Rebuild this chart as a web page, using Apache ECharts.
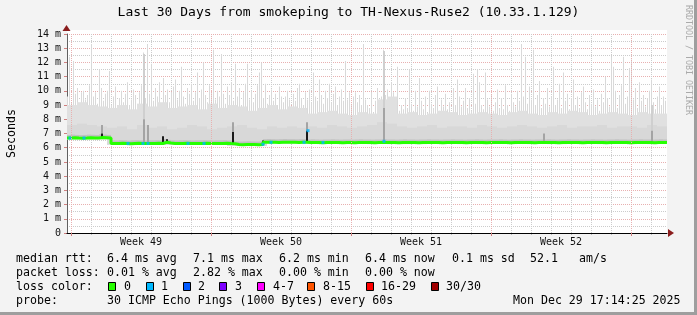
<!DOCTYPE html>
<html><head><meta charset="utf-8">
<script src="https://cdn.jsdelivr.net/npm/echarts@6/dist/echarts.min.js"></script>
<style>html,body{margin:0;padding:0;background:#f3f3f3}#c{width:697px;height:315px}</style>
</head><body><div id="c"></div><script>
// ---------- DATA ----------
const chartTitle = 'Last 30 Days from smokeping to TH-Nexus-Ruse2 (10.33.1.129)';
const yAxisName = 'Seconds';
const yTickValues = [0,1,2,3,4,5,6,7,8,9,10,11,12,13,14];
// x axis in days from the left edge of the 30-day window
const weekLines = [0.2, 7.2, 14.2, 21.2, 28.2];
const dayLines = [1.2,2.2,3.2,4.2,5.2,6.2, 8.2,9.2,10.2,11.2,12.2,13.2, 15.2,16.2,17.2,18.2,19.2,20.2, 22.2,23.2,24.2,25.2,26.2,27.2, 29.2];
const weekLabelPos = [3.7, 10.7, 17.7, 24.7];
const weekLabels = ['Week 49', 'Week 50', 'Week 51', 'Week 52'];

// median rtt (ms), one value per 0.2 day
const medianRtt = [
6.68,6.70,6.68,6.67,6.68,6.70,6.69,6.68,6.72,6.70,6.68,
6.30,6.29,6.31,6.30,6.28,6.30,6.31,6.30,6.29,6.30,
6.30,6.31,6.30,6.38,6.33,6.30,6.29,6.30,6.31,6.30,
6.29,6.30,6.30,6.31,6.30,6.29,6.30,6.30,6.31,6.29,6.28,
6.22,6.21,6.22,6.23,6.22,6.21,6.22,
6.38,6.39,6.38,6.37,6.38,6.39,6.38,6.38,6.37,6.38,6.38,
6.36,6.37,6.36,6.35,6.36,6.36,6.37,6.36,6.35,6.36,
6.36,6.35,6.36,6.37,6.36,6.36,6.35,6.36,6.36,6.37,
6.36,6.36,6.35,6.36,6.37,6.36,6.36,6.35,6.36,6.36,
6.37,6.36,6.36,6.35,6.36,6.36,6.37,6.36,6.36,6.35,
6.36,6.36,6.37,6.36,6.35,6.36,6.36,6.36,6.37,6.36,
6.35,6.36,6.36,6.37,6.36,6.36,6.35,6.36,6.36,6.36,
6.37,6.36,6.35,6.36,6.36,6.37,6.36,6.36,6.35,6.36,
6.36,6.37,6.36,6.36,6.35,6.36,6.36,6.37,6.36,6.36,
6.35,6.36,6.36,6.37,6.36,6.36,6.35,6.36,6.37,6.36
];
// highest ping (ms), one value per 0.1 day
const smokeMax = [
9.6,12.4,9.2,12.1,9.8,10.2,9.0,9.9,10.0,9.4,
9.7,10.4,13.3,9.6,9.9,9.1,11.5,10.2,9.3,9.8,
10.0,11.4,9.0,9.6,10.3,8.8,9.5,10.0,9.2,9.8,
10.6,9.0,9.4,10.1,9.7,8.9,9.9,10.4,12.7,9.5,
13.3,9.8,11.9,9.3,10.2,9.6,10.6,9.0,10.9,9.7,
10.1,9.2,9.9,10.3,10.8,9.4,10.0,11.7,9.6,9.1,
10.2,9.8,10.5,9.3,9.9,11.3,9.5,10.1,12.0,9.7,
9.2,10.4,9.9,12.9,9.4,10.0,9.6,12.6,9.8,9.1,
10.3,9.7,10.6,9.3,11.9,9.6,10.2,9.0,9.9,10.5,
11.9,9.4,10.0,9.2,9.8,10.4,11.3,12.0,9.5,10.5,
9.1,9.7,10.1,9.3,9.8,9.0,10.3,9.6,9.2,9.6,
10.0,9.4,8.9,9.8,9.3,10.2,10.5,9.5,9.0,9.9,
9.4,10.1,9.2,11.3,9.6,9.3,10.8,9.7,9.1,10.0,
9.5,10.5,9.2,9.8,10.3,9.0,9.6,10.1,9.3,12.1,
9.4,9.9,9.1,9.6,9.9,9.2,9.7,9.0,13.3,9.4,
9.0,8.8,9.9,8.5,9.3,10.2,8.9,9.6,12.9,9.7,
10.1,9.4,10.6,9.9,8.9,11.7,8.6,9.0,8.7,9.5,
8.8,11.5,9.1,8.6,10.0,8.9,10.9,9.3,8.7,9.6,
8.5,10.0,9.1,8.8,9.7,10.3,8.6,9.4,8.9,9.8,
8.7,9.2,8.5,10.2,9.0,10.8,9.6,8.9,9.3,10.2,
8.8,9.5,8.6,11.2,9.1,11.5,10.6,9.0,8.7,11.3,
9.4,8.9,9.7,8.6,9.2,10.1,8.8,9.5,8.7,10.4,
9.0,8.6,9.8,9.2,8.9,10.0,9.3,13.3,9.6,12.4,
9.1,10.3,9.4,12.9,9.0,9.7,10.7,8.8,9.5,9.1,
10.2,8.9,9.6,11.7,9.0,9.4,10.5,8.8,11.3,9.3,
9.8,8.7,9.5,10.8,9.0,9.6,8.8,9.9,10.3,9.2,
8.7,9.7,9.1,10.1,8.9,9.4,8.6,9.8,9.2,11.0,
9.5,8.9,12.4,11.7,10.0,8.8,9.7,10.4,12.4,9.1,
9.6,11.6,12.2,9.4,10.2,8.8,10.6,9.3,9.7,8.9,
9.5,10.0,10.8,9.2,8.7,9.6,10.3,9.0,9.6,9.3
];
// top of the dense smoke (ms), one value per 0.5 day
const smokeDense = [
9.0,9.2,9.0,8.9,
8.8,9.0,8.7,9.1,8.9,9.2,8.8,8.9,9.0,8.7,9.1,8.8,9.0,8.9,8.6,8.8,9.0,8.7,8.9,8.8,
8.4,8.5,8.6,8.4,8.3,8.5,8.4,9.4,9.6,8.4,8.5,8.3,8.4,8.6,8.5,8.3,8.4,8.5,
8.4,8.3,8.5,8.6,8.4,8.3,8.5,8.4,8.6,8.5,8.3,8.4,8.5,8.4,8.3,8.5,8.4,8.4
];
// top of the darker middle smoke (ms), one value per 0.5 day
const smokeMid = [
7.6,7.7,7.6,7.5,
7.4,7.5,7.3,7.6,7.4,7.5,7.3,7.4,7.6,7.5,7.3,7.4,7.5,7.6,7.4,7.3,7.5,7.4,7.5,7.4,
7.5,7.4,7.6,7.5,7.4,7.5,7.6,7.8,7.7,7.5,7.4,7.5,7.6,7.4,7.5,7.5,7.4,7.6,
7.5,7.4,7.5,7.6,7.5,7.4,7.5,7.6,7.4,7.5,7.5,7.6,7.4,7.5,7.5,7.4,7.6,7.5
];
// [day, rtt ms, lost pings]
const lossEvents = [
[0.1,6.68,1],[0.8,6.68,1],[3.0,6.30,1],[3.75,6.30,1],[4.0,6.30,1],[6.0,6.30,1],[6.8,6.30,1],
[9.75,6.24,1],[10.15,6.38,1],[11.8,6.38,1],[12.0,7.2,1],[12.75,6.37,1],[15.8,6.45,1]
];
// concentrated smoke streaks [day, low ms, high ms]
const darkStreaks = [[1.7,6.68,7.0],[2.15,6.30,6.68],[4.75,6.35,6.8],[4.95,6.30,6.6],[8.25,6.2,7.1],[9.75,6.22,6.5],[11.95,6.38,7.2]];
const grayStreaks = [[1.7,7.0,7.6],[3.8,6.35,8.0],[4.0,6.35,7.6],[8.25,7.1,7.8],[11.95,7.2,7.8],[15.8,6.45,8.8],[23.8,6.4,7.0],[29.2,6.4,7.2]];
const softStreaks = [[3.8,8.0,12.6],[15.8,8.8,12.8],[29.2,7.2,9.0]];

const lossLabels = ['0','1','2','3','4-7','8-15','16-29','30/30'];
const lossColors = ['#26ff00','#00b8ff','#0059ff','#7e00ff','#ff00ff','#ff5500','#ff0000','#a10000'];
const statRow1 = ['median rtt:','6.4 ms avg','7.1 ms max','6.2 ms min','6.4 ms now','0.1 ms sd','52.1','am/s'];
const statRow2 = ['packet loss:','0.01 % avg','2.82 % max','0.00 % min','0.00 % now'];
const lossRowLabel = 'loss color:';
const probeRow = ['probe:','30 ICMP Echo Pings (1000 Bytes) every 60s','Mon Dec 29 17:14:25 2025'];
const watermark = 'RRDTOOL / TOBI OETIKER';

// ---------- LAYOUT / STYLE ----------
const MONO = '"DejaVu Sans Mono", monospace';
const statX = [16,107,193,279,365,452,530,579];
const probeX = [16,107,513];
const boxX = [108,146,183,219,257,307,366,431];
const boxLabelX = [124,161,198,235,273,323,381,446];
const rowY = [259,273,287,301];
const PINK = '#e8b0b0', GRAYDOT = '#cccccc';

function medAt(d){ const i=Math.max(0,Math.min(medianRtt.length-1,Math.floor(d/0.2+1e-6))); return medianRtt[i]; }
function minMed(d0,d1){ let m=Infinity; for(let d=d0; d<d1-1e-6; d+=0.1) m=Math.min(m,medAt(d)); return m; }
function lossBucket(n){ if(n<=3) return n; if(n<=7) return 4; if(n<=15) return 5; if(n<=29) return 6; return 7; }

function rectLayer(name, data, color, pxWidth){
  return {
    type:'custom', name, silent:true, clip:true, data,
    encode:{x:0, y:[1,2]},
    renderItem(params, api){
      const d=api.value(0), lo=api.value(1), hi=api.value(2), w=api.value(3);
      const p0=api.coord([d,hi]), p1=api.coord([d+w,lo]);
      return {type:'rect', shape:{x:p0[0], y:p0[1], width: pxWidth || (p1[0]-p0[0]), height:p1[1]-p0[1]}, style:{fill:color}};
    }
  };
}

const spikeData = smokeMax.map((v,i)=>[i*0.1, medAt(i*0.1)-0.1, v, 0.1]);
const denseData = smokeDense.map((v,j)=>[j*0.5, minMed(j*0.5,j*0.5+0.5)-0.1, v, 0.5]);
const midData = smokeMid.map((v,j)=>[j*0.5, minMed(j*0.5,j*0.5+0.5)-0.05, v, 0.5]);
const nearData = medianRtt.map((v,i)=>[i*0.2, v, v+0.22, 0.2]);
const toStreak = a => a.map(s=>[s[0], s[1], s[2], 0.1]);
const medianLine = medianRtt.map((v,i)=>[i*0.2, v]).concat([[30, medianRtt[medianRtt.length-1]]]);

const graphics = [];
graphics.push({type:'rect', shape:{x:67,y:30,width:600,height:4}, style:{fill:'#ffffff'}, z:-10});
graphics.push({type:'rect', shape:{x:694,y:0,width:3,height:315}, style:{fill:'#9e9e9e'}});
graphics.push({type:'rect', shape:{x:0,y:312,width:697,height:3}, style:{fill:'#9e9e9e'}});
graphics.push({type:'polygon', shape:{points:[[62.5,31],[70.5,31],[66.5,25]]}, style:{fill:'#8a1c1c'}, z:100});
graphics.push({type:'polygon', shape:{points:[[668,229],[668,237],[674,233]]}, style:{fill:'#8a1c1c'}, z:100});
graphics.push({type:'text', x:688, y:5, rotation:-Math.PI/2, style:{text:watermark, font:'8.3px '+MONO, fill:'#aaaaaa', align:'left', verticalAlign:'middle'}});
function txt(t,x,y){ graphics.push({type:'text', x, y, style:{text:t, font:'11.6px '+MONO, fill:'#000', align:'left', verticalAlign:'middle'}}); }
statRow1.forEach((t,k)=>txt(t,statX[k],rowY[0]));
statRow2.forEach((t,k)=>txt(t,statX[k],rowY[1]));
txt(lossRowLabel,16,rowY[2]);
lossLabels.forEach((t,k)=>{
  graphics.push({type:'rect', shape:{x:boxX[k]+0.5,y:rowY[2]-4.5,width:7,height:8}, style:{fill:lossColors[k], stroke:'#000', lineWidth:1}});
  txt(t,boxLabelX[k],rowY[2]);
});
probeRow.forEach((t,k)=>txt(t,probeX[k],rowY[3]));

const chart = echarts.init(document.getElementById('c'), null, {renderer:'canvas', width:697, height:315});
chart.setOption({
  animation:false,
  backgroundColor:'#f3f3f3',
  title:{text:chartTitle, left:'center', top:6, padding:0, textStyle:{fontFamily:MONO, fontSize:13, fontWeight:'normal', color:'#000'}},
  grid:{left:67, top:34, width:600, height:199, show:true, backgroundColor:'#ffffff', borderWidth:0, containLabel:false, outerBoundsMode:'none'},
  xAxis:[
    {type:'value', min:0, max:30, position:'bottom',
     axisLine:{show:true, onZero:false, lineStyle:{color:'#000', width:1}},
     axisTick:{show:true, customValues:weekLines, length:3, lineStyle:{color:'#d08080'}},
     axisLabel:{show:true, customValues:weekLabelPos, margin:4, fontFamily:MONO, fontSize:10, color:'#111',
       formatter:v=>{const k=weekLabelPos.findIndex(p=>Math.abs(p-v)<1e-6); return k>=0?weekLabels[k]:'';}},
     splitLine:{show:true, lineStyle:{color:PINK, type:[1,1], width:1}}, z:5},
    {type:'value', min:0, max:30, position:'bottom',
     axisLine:{show:false}, axisLabel:{show:false},
     axisTick:{show:true, customValues:dayLines, length:2, lineStyle:{color:'#bbbbbb'}},
     splitLine:{show:true, lineStyle:{color:GRAYDOT, type:[1,1], width:1}}}
  ],
  yAxis:{type:'value', min:0, max:14, interval:1,
    name:yAxisName, nameLocation:'middle', nameGap:49, nameRotate:90,
    nameTextStyle:{fontFamily:MONO, fontSize:11.6, color:'#000'},
    axisLine:{show:true, lineStyle:{color:'#606060', width:1}},
    axisTick:{show:true, length:3, lineStyle:{color:'#d08080'}},
    axisLabel:{fontFamily:MONO, fontSize:10, color:'#111', margin:6, formatter:v=>v===0?'0':v+' m'},
    splitLine:{show:true, lineStyle:{color:PINK, type:[1,1], width:1}},
    minorTick:{show:false, splitNumber:2},
    minorSplitLine:{show:true, lineStyle:{color:GRAYDOT, type:[1,1], width:1}}
  },
  graphic:graphics,
  series:[
    rectLayer('smoke max', spikeData, '#d9d9d9', 1),
    rectLayer('smoke dense', denseData, '#e0e0e0'),
    rectLayer('smoke mid', midData, '#d8d8d8'),
    rectLayer('smoke near', nearData, '#c0c0c0'),
    rectLayer('soft streaks', toStreak(softStreaks), '#cfcfcf'),
    rectLayer('gray streaks', toStreak(grayStreaks), '#a4a4a4'),
    rectLayer('dark streaks', toStreak(darkStreaks), '#1a1a1a'),
    {type:'line', name:'median', data:medianLine, step:'end', showSymbol:false, symbol:'none', silent:true,
     lineStyle:{color:lossColors[0], width:3}, z:3},
    {type:'scatter', name:'loss', silent:true, symbol:'rect', symbolSize:[3,3],
     data:lossEvents.map(e=>[e[0]+0.05, e[1], e[2]]),
     itemStyle:{color:p=>lossColors[lossBucket(p.value[2])]}, z:4}
  ]
});
</script></body></html>
